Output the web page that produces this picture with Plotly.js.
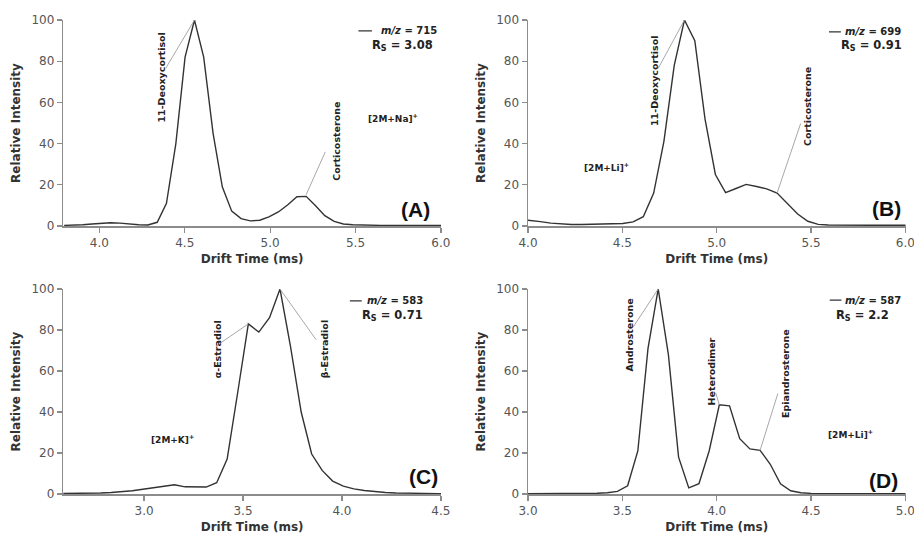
<!DOCTYPE html>
<html>
<head>
<meta charset="utf-8">
<script src="https://cdn.plot.ly/plotly-3.0.1.min.js"></script>
<style>html,body{margin:0;padding:0;background:#fff;}#chart{width:914px;height:536px;}</style>
</head>
<body>
<div id="chart"></div>
<script>
// ---------- DATA ----------
// Panel A: m/z = 715, [2M+Na]+
const timeA = [3.794,3.848,3.903,3.957,4.012,4.066,4.121,4.175,4.230,4.284,4.339,4.393,4.448,4.502,4.557,4.611,4.666,4.720,4.775,4.830,4.884,4.939,4.993,5.048,5.102,5.157,5.211,5.266,5.320,5.375,5.429,5.484,5.538,5.593,5.647,5.702,5.756,5.811,5.866,5.920,5.975,6.029];
const intensityA = [0.3,0.4,0.6,1.0,1.4,1.6,1.4,0.9,0.6,0.5,1.8,11,40,82,100,82,45,19,7.2,3.6,2.5,2.8,4.4,6.8,10.2,14.2,14.4,9.8,5.0,2.2,1.0,0.6,0.4,0.3,0.3,0.3,0.3,0.3,0.3,0.3,0.3,0.3];

// Panel B: m/z = 699, [2M+Li]+
const timeB = [3.957,4.012,4.066,4.121,4.175,4.230,4.284,4.339,4.393,4.448,4.502,4.557,4.611,4.666,4.720,4.775,4.829,4.884,4.938,4.993,5.047,5.102,5.156,5.211,5.265,5.320,5.374,5.429,5.483,5.538,5.592,5.647,5.701,5.756,5.810,5.865,5.919,5.974,6.028];
const intensityB = [3.3,2.8,2.1,1.4,0.9,0.7,0.7,0.8,0.9,1.0,1.2,2.0,4.5,16,41,78,100,90,52,25,16.2,18.2,20.2,19.2,18,16,11,5.8,2.3,0.8,0.5,0.4,0.4,0.4,0.4,0.4,0.4,0.4,0.4];

// Panel C: m/z = 583, [2M+K]+
const timeC = [2.568,2.621,2.674,2.728,2.781,2.834,2.888,2.941,2.994,3.047,3.101,3.154,3.207,3.261,3.314,3.367,3.420,3.474,3.527,3.580,3.634,3.687,3.740,3.794,3.847,3.900,3.953,4.007,4.060,4.113,4.167,4.220,4.273,4.327,4.380,4.433,4.486,4.540];
const intensityC = [0.2,0.2,0.2,0.3,0.5,0.7,1.0,1.6,2.3,3.0,3.9,4.5,3.5,3.6,3.4,5.5,17,50,83,79,86,100,72,40,19.5,11.5,6.3,3.8,2.5,1.7,1.1,0.7,0.5,0.35,0.3,0.2,0.2,0.2];

// Panel D: m/z = 587, [2M+Li]+
const timeD = [2.988,3.042,3.096,3.150,3.204,3.258,3.312,3.366,3.420,3.474,3.528,3.582,3.636,3.690,3.744,3.798,3.852,3.906,3.960,4.014,4.068,4.122,4.176,4.230,4.284,4.338,4.392,4.446,4.500,4.554,4.608,4.662,4.716,4.770,4.824,4.878,4.932,4.986,5.040];
const intensityD = [0.2,0.2,0.2,0.2,0.2,0.3,0.3,0.4,0.6,1.3,4,21,71,100,68,18,3,5,21,43.5,43,27,22,21.3,14.5,5,1.6,0.6,0.3,0.2,0.2,0.2,0.2,0.2,0.2,0.2,0.2,0.2,0.2];

const panelLetters = ['(A)','(B)','(C)','(D)'];
const mzValues = ['715','699','583','587'];
const rsValues = ['3.08','0.91','0.71','2.2'];
const ionLabels = ['[2M+Na]<sup>+</sup>','[2M+Li]<sup>+</sup>','[2M+K]<sup>+</sup>','[2M+Li]<sup>+</sup>'];
const xTickVals = [[4.0,4.5,5.0,5.5,6.0],[4.0,4.5,5.0,5.5,6.0],[3.0,3.5,4.0,4.5],[3.0,3.5,4.0,4.5,5.0]];
const yTickVals = [0,20,40,60,80,100];

// ---------- STYLE ----------
const FONT = 'DejaVu Sans, Verdana, sans-serif';
const LINE = '#333333';
const AXC = '#8c8c8c';
const LEAD = '#a8a8a8';

const xDomL = [63.3/914, 441/914], xDomR = [528/914, 905.5/914];
const yDomT = [1-226/536, 1-20/536], yDomB = [1-494/536, 1-289/536];

function xa(domain, range, ticks, anchor){
  return {domain, range, anchor, tickvals: ticks, ticktext: ticks.map(v=>v.toFixed(1)),
    showline:true, linecolor:AXC, linewidth:1.5, ticks:'outside', ticklen:5, tickwidth:1.2, tickcolor:AXC,
    ticklabeloverflow:'allow',
    tickfont:{family:FONT,size:12,color:'#555'}, showgrid:false, zeroline:false,
    title:{text:'<b>Drift Time (ms)</b>', font:{family:FONT,size:12,color:'#333'}, standoff:5}};
}
function ya(domain, anchor){
  return {domain, range:[0,100], anchor, tickvals:yTickVals,
    showline:true, linecolor:AXC, linewidth:1.5, ticks:'outside', ticklen:5, tickwidth:1.2, tickcolor:AXC,
    ticklabeloverflow:'allow',
    tickfont:{family:FONT,size:12,color:'#555'}, showgrid:false, zeroline:false,
    title:{text:'<b>Relative Intensity</b>', font:{family:FONT,size:12,color:'#333'}, standoff:8}};
}

const series = [[timeA,intensityA,'x','y'],[timeB,intensityB,'x2','y2'],[timeC,intensityC,'x3','y3'],[timeD,intensityD,'x4','y4']];
const traces = series.map(s=>({x:s[0], y:s[1], xaxis:s[2], yaxis:s[3], type:'scatter', mode:'lines',
  line:{color:LINE, width:1.4}, showlegend:false, hoverinfo:'skip'}));

const annotations = [];
const shapes = [];
function txt(xr, yr, x, y, text, opts){
  annotations.push(Object.assign({xref:xr, yref:yr, x, y, text, showarrow:false,
    font:{family:FONT, size:9.5, color:'#222'}}, opts||{}));
}
function lead(xr, yr, x0, y0, x1, y1, color, width){
  shapes.push({type:'line', xref:xr, yref:yr, x0, y0, x1, y1, line:{color:color||LEAD, width:width||1}});
}
function rot(xr, yr, x, y, text){ txt(xr, yr, x, y, '<b>'+text+'</b>', {textangle:-90}); }

// legend / Rs / ion / letter positions per panel
const legPos = [
  {ax:'x', ay:'y', l0:5.517, l1:5.596, ly:94.7, tx:5.637, rx:5.773, ry:87.4, ix:5.562, iy:52.4, px:5.948, py:7.8},
  {ax:'x2', ay:'y2', l0:5.595, l1:5.658, ly:94.2, tx:5.667, rx:5.820, ry:87.4, ix:4.287, iy:28.8, px:5.986, py:8.3},
  {ax:'x3', ay:'y3', l0:4.040, l1:4.100, ly:94.2, tx:4.116, rx:4.253, ry:87.0, ix:3.024, iy:26.8, px:4.495, py:8.4},
  {ax:'x4', ay:'y4', l0:4.599, l1:4.661, ly:94.6, tx:4.669, rx:4.770, ry:86.9, ix:4.581, iy:29.2, px:4.970, py:6.5}
];
legPos.forEach((p,i)=>{
  lead(p.ax, p.ay, p.l0, p.ly, p.l1, p.ly, LINE, 1.3);
  txt(p.ax, p.ay, p.tx, p.ly, '<b><i>m/z</i> = '+mzValues[i]+'</b>', {xanchor:'left', yanchor:'middle', font:{family:FONT,size:10,color:'#222'}});
  txt(p.ax, p.ay, p.rx, p.ry, '<b>R<sub>S</sub> = '+rsValues[i]+'</b>', {xanchor:'center', yanchor:'middle', font:{family:FONT,size:11.5,color:'#222'}});
  txt(p.ax, p.ay, p.ix, p.iy, '<b>'+ionLabels[i]+'</b>', {xanchor:'left', yanchor:'middle', font:{family:FONT,size:9,color:'#222'}});
  txt(p.ax, p.ay, p.px, p.py, '<b>'+panelLetters[i]+'</b>', {xanchor:'right', yanchor:'middle', font:{family:'Liberation Sans, Arial, sans-serif',size:21,color:'#111'}});
});

// compound labels and leader lines (leaders start at the data point of the peak)
rot('x','y',4.364,71.8,'11-Deoxycortisol');
lead('x','y', timeA[14], intensityA[14], 4.389, 76.6);
rot('x','y',5.387,41,'Corticosterone');
lead('x','y', timeA[26], intensityA[26]+0.8, 5.323, 36);

rot('x2','y2',4.670,70.6,'11-Deoxycortisol');
lead('x2','y2', timeB[16], intensityB[16], 4.690, 76.5);
rot('x2','y2',5.485,57.9,'Corticosterone');
lead('x2','y2', timeB[25], intensityB[25], 5.445, 49.8);

rot('x3','y3',3.369,70.6,'\u03b1-Estradiol');
lead('x3','y3', timeC[18], intensityC[18], 3.387, 73.7);
rot('x3','y3',3.909,70.6,'\u03b2-Estradiol');
lead('x3','y3', timeC[21], intensityC[21], 3.869, 75.3);

rot('x4','y4',3.536,77.4,'Androsterone');
lead('x4','y4', timeD[13], intensityD[13], 3.558, 81.5);
rot('x4','y4',3.972,60,'Heterodimer');
lead('x4','y4', timeD[19], intensityD[19], 3.995, 49.3);
rot('x4','y4',4.365,58.8,'Epiandrosterone');
lead('x4','y4', timeD[23], intensityD[23], 4.324, 49);

const layout = {
  width:914, height:536, margin:{l:0,r:0,t:0,b:0}, paper_bgcolor:'#fff', plot_bgcolor:'#fff',
  showlegend:false,
  xaxis: xa(xDomL,[3.789,6.0005],xTickVals[0],'y'),
  yaxis: ya(yDomT,'x'),
  xaxis2: xa(xDomR,[4.0,6.0005],xTickVals[1],'y2'),
  yaxis2: ya(yDomT,'x2'),
  xaxis3: xa(xDomL,[2.592,4.5005],xTickVals[2],'y3'),
  yaxis3: ya(yDomB,'x3'),
  xaxis4: xa(xDomR,[3.0,5.0005],xTickVals[3],'y4'),
  yaxis4: ya(yDomB,'x4'),
  annotations, shapes
};
Plotly.newPlot('chart', traces, layout, {staticPlot:true, displayModeBar:false});
</script>
</body>
</html>
